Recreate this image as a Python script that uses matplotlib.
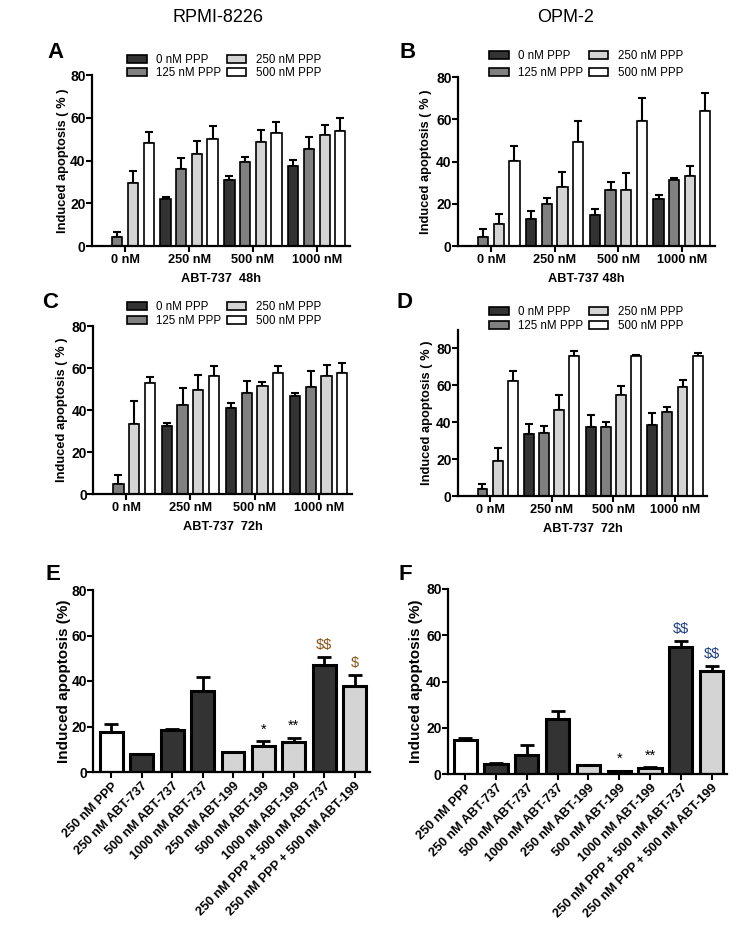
import matplotlib
matplotlib.use("Agg")
import matplotlib.pyplot as plt
import numpy as np

plt.rcParams['font.family'] = ['Liberation Sans', 'DejaVu Sans']
plt.rcParams['text.parse_math'] = False

W, H = 747, 938

# ---------------- data ----------------
groups = ["0 nM", "250 nM", "500 nM", "1000 nM"]
ppp_labels = ["0 nM PPP", "125 nM PPP", "250 nM PPP", "500 nM PPP"]
ppp_colors = ["#333333", "#808080", "#d4d4d4", "#ffffff"]

# rows: PPP series, cols: ABT-737 groups
A_mean = [[0, 21.8, 31.0, 37.6], [4.4, 35.9, 39.5, 45.2], [29.3, 42.9, 48.8, 52.0], [48.4, 50.2, 52.7, 54.0]]
A_sem = [[0, 1.3, 1.9, 2.6], [2.0, 5.1, 2.3, 5.8], [6.0, 6.4, 5.6, 4.6], [4.8, 6.0, 5.5, 5.9]]

B_mean = [[0, 12.9, 14.5, 22.2], [4.4, 19.7, 26.6, 31.3], [10.6, 28.0, 26.6, 33.2], [40.3, 49.3, 59.2, 63.9]]
B_sem = [[0, 3.6, 3.0, 2.1], [3.8, 3.1, 3.6, 0.8], [4.7, 7.0, 7.9, 4.6], [6.9, 9.9, 10.7, 8.4]]

C_mean = [[0, 32.5, 40.9, 46.9], [4.6, 42.2, 47.9, 50.9], [33.3, 49.3, 51.2, 56.4], [52.9, 56.4, 57.4, 57.8]]
C_sem = [[0, 1.1, 2.2, 1.4], [4.6, 8.5, 6.1, 7.9], [11.1, 7.4, 2.2, 5.1], [2.6, 4.6, 3.6, 4.8]]

D_mean = [[0, 33.6, 37.6, 38.5], [3.6, 34.3, 37.6, 45.5], [18.9, 46.6, 54.8, 59.0], [62.2, 75.9, 75.9, 75.9]]
D_sem = [[0, 5.4, 6.3, 6.4], [2.9, 3.6, 2.7, 2.9], [7.0, 8.4, 5.1, 3.7], [5.4, 2.5, 0.7, 1.9]]

treatments = ["250 nM PPP", "250 nM ABT-737", "500 nM ABT-737", "1000 nM ABT-737",
              "250 nM ABT-199", "500 nM ABT-199", "1000 nM ABT-199",
              "250 nM PPP + 500 nM ABT-737", "250 nM PPP + 500 nM ABT-199"]
treat_colors = ["#ffffff", "#333333", "#333333", "#333333", "#d4d4d4", "#d4d4d4", "#d4d4d4", "#333333", "#d4d4d4"]

E_mean = [17.4, 7.7, 18.3, 35.7, 8.6, 11.3, 13.0, 47.2, 38.0]
E_sem = [3.9, 0.3, 0.7, 6.1, 0.3, 2.2, 2.1, 3.4, 4.7]
E_marks = ["", "", "", "", "", "*", "**", "$$", "$"]

F_mean = [14.8, 4.3, 8.3, 23.9, 4.0, 1.2, 2.6, 54.8, 44.5]
F_sem = [0.9, 0.4, 4.4, 3.4, 0.0, 0.2, 0.4, 2.9, 2.4]
F_marks = ["", "", "", "", "", "*", "**", "$$", "$$"]

fig = plt.figure(figsize=(W / 100, H / 100), dpi=100)


def add_ax(left, right, top, bottom):
    return fig.add_axes([left / W, 1 - bottom / H, (right - left) / W, (bottom - top) / H])


def style(ax, ylabel, lab_x, ylab_size, xtick_size):
    for s in ["top", "right"]:
        ax.spines[s].set_visible(False)
    for s in ["left", "bottom"]:
        ax.spines[s].set_linewidth(1.6)
    ax.tick_params(width=1.5, length=4)
    ax.tick_params(axis="y", labelsize=10, pad=0.5)
    ax.tick_params(axis="x", labelsize=xtick_size, pad=2)
    for t in ax.get_yticklabels() + ax.get_xticklabels():
        t.set_fontweight("bold")
    ax.set_ylabel(ylabel, fontsize=ylab_size, fontweight="bold")
    ax.yaxis.set_label_coords(lab_x, 0.5)


def grouped(ax, means, sems, ymax, yticks, xlabel, legend_pos, ylabel_x, lspace):
    x = np.arange(len(groups))
    offs = np.array([-1.5, -0.5, 0.5, 1.5]) * 0.245
    handles = []
    for i in range(4):
        m = np.array(means[i]); e = np.array(sems[i])
        b = ax.bar(x + offs[i], m, width=0.16, color=ppp_colors[i], edgecolor="black",
                   linewidth=1.2, label=ppp_labels[i], zorder=2)
        handles.append(b)
        mask = e > 0
        ax.errorbar((x + offs[i])[mask], m[mask], yerr=[np.zeros(mask.sum()), e[mask]],
                    fmt="none", ecolor="black", elinewidth=1.5, capsize=3.2, capthick=1.5, zorder=1)
    ax.set_xlim(-0.52, 3.52)
    ax.set_ylim(0, ymax)
    ax.set_yticks(yticks)
    ax.set_xticks(x)
    ax.set_xticklabels(groups)
    ax.set_xlabel(xlabel, fontsize=9.2, fontweight="bold", labelpad=5)
    style(ax, "Induced apoptosis ( % )", ylabel_x, 9.3, 9.2)
    ax.legend(handles=handles, loc="upper left", bbox_to_anchor=(legend_pos[0] / W, 1 - legend_pos[1] / H),
              bbox_transform=fig.transFigure, ncol=2, frameon=False, fontsize=8.3,
              handlelength=1.7, handleheight=0.7, handletextpad=0.8, columnspacing=0.5,
              labelspacing=lspace, borderpad=0, borderaxespad=0)


def single(ax, means, sems, marks, mark_color, ylabel_x, xlim):
    x = np.arange(len(treatments))
    m = np.array(means); e = np.array(sems)
    ax.bar(x, m, width=0.75, color=treat_colors, edgecolor="black", linewidth=2.2, zorder=2)
    mask = e > 0
    ax.errorbar(x[mask], m[mask], yerr=[np.zeros(mask.sum()), e[mask]], fmt="none",
                ecolor="black", elinewidth=2, capsize=5, capthick=2, zorder=1)
    for xi, mi, ei, mk in zip(x, m, e, marks):
        if mk:
            col = "black" if "*" in mk else mark_color
            ax.text(xi, mi + ei + 2.0, mk, ha="center", va="bottom", fontsize=10.5, color=col)
    ax.set_xlim(*xlim)
    ax.set_ylim(0, 80)
    ax.set_yticks([0, 20, 40, 60, 80])
    ax.set_xticks(x)
    ax.set_xticklabels(treatments, rotation=45, ha="right", rotation_mode="anchor")
    style(ax, "Induced apoptosis (%)", ylabel_x, 11, 9.2)


axA = add_ax(92, 350, 75, 246)
grouped(axA, A_mean, A_sem, 80, [0, 20, 40, 60, 80], "ABT-737  48h", (127, 54), -0.09, 0.12)
axB = add_ax(458, 715, 77, 246)
grouped(axB, B_mean, B_sem, 80, [0, 20, 40, 60, 80], "ABT-737 48h", (489, 50), -0.10, 0.45)
axC = add_ax(93, 352, 326, 494)
grouped(axC, C_mean, C_sem, 80, [0, 20, 40, 60, 80], "ABT-737  72h", (127, 301), -0.095, 0.2)
axD = add_ax(458, 707, 330, 496)
grouped(axD, D_mean, D_sem, 90, [0, 20, 40, 60, 80], "ABT-737  72h", (489, 306), -0.10, 0.15)

axE = add_ax(93, 370, 590, 772)
single(axE, E_mean, E_sem, E_marks, "#8a5418", -0.078, (-0.6, 8.5))
axF = add_ax(448, 727, 589, 774)
single(axF, F_mean, F_sem, F_marks, "#1f3f80", -0.09, (-0.56, 8.5))

fig.text(218 / W, 1 - 17 / H, "RPMI-8226", ha="center", va="center", fontsize=13)
fig.text(566 / W, 1 - 17 / H, "OPM-2", ha="center", va="center", fontsize=13)
for lab, (px, py) in {"A": (55, 53), "B": (408, 53), "C": (50, 303), "D": (405, 303),
                      "E": (53, 575), "F": (405, 575)}.items():
    fig.text(px / W, 1 - py / H, lab, ha="center", va="center", fontsize=16, fontweight="bold")

fig.savefig("out.png", dpi=100)
